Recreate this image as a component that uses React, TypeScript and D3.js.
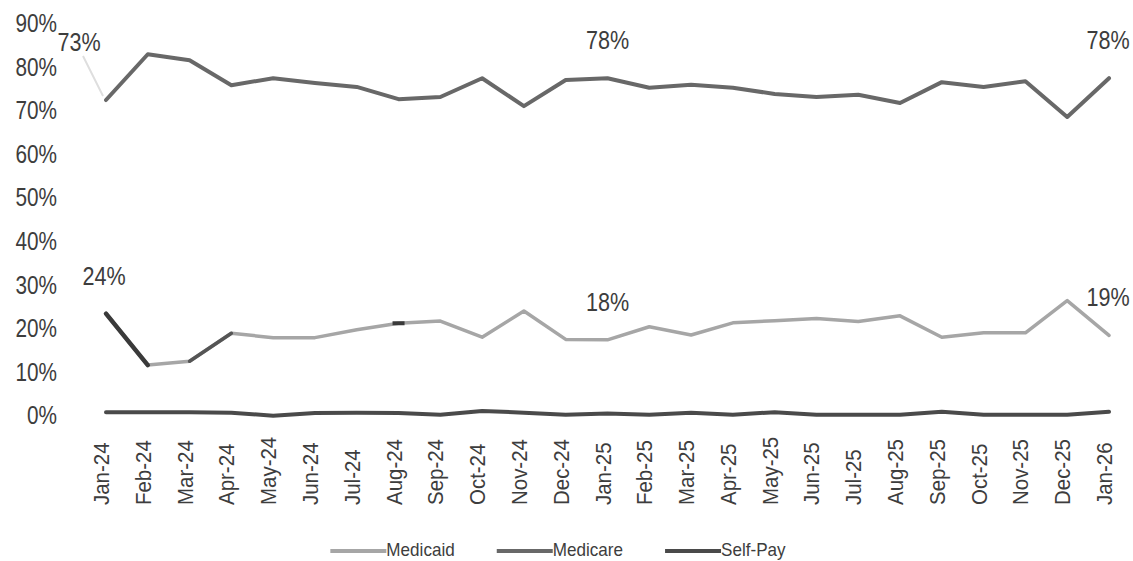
import React, { useEffect, useRef } from "react";
import * as d3 from "d3";

// Monthly payer mix, share of total
const months = [
  "Jan-24", "Feb-24", "Mar-24", "Apr-24", "May-24", "Jun-24", "Jul-24", "Aug-24", "Sep-24",
  "Oct-24", "Nov-24", "Dec-24", "Jan-25", "Feb-25", "Mar-25", "Apr-25", "May-25", "Jun-25",
  "Jul-25", "Aug-25", "Sep-25", "Oct-25", "Nov-25", "Dec-25", "Jan-26",
];

const medicare = [
  73, 83.5, 82.1, 76.4, 78.0, 76.9, 76.0, 73.2, 73.7, 78.0, 71.6, 77.6, 78,
  75.8, 76.5, 75.8, 74.4, 73.7, 74.2, 72.3, 77.1, 76.0, 77.3, 69.1, 78,
];

const medicaid = [
  24, 12.2, 13.1, 19.5, 18.5, 18.5, 20.3, 21.8, 22.3, 18.6, 24.6, 18.1, 18,
  21.0, 19.1, 21.9, 22.4, 22.9, 22.2, 23.5, 18.6, 19.6, 19.6, 27.0, 19,
];

const selfPay = [
  1.4, 1.4, 1.4, 1.3, 0.6, 1.2, 1.3, 1.2, 0.8, 1.7, 1.3, 0.8, 1.1,
  0.8, 1.3, 0.8, 1.4, 0.8, 0.8, 0.8, 1.5, 0.8, 0.8, 0.8, 1.5,
];

// Stretches of the Medicaid line drawn in the darker accent, plus a single accent tick
const medicaidAccentSegments: [number, number][] = [[0, 1], [2, 3]];
const medicaidAccentPoints = [7];

// Months carrying a value label
const labelledMonths = ["Jan-24", "Jan-25", "Jan-26"];

const yTicks = [0, 10, 20, 30, 40, 50, 60, 70, 80, 90];

const seriesNames = ["Medicaid", "Medicare", "Self-Pay"];
const seriesColors = ["#a6a6a6", "#686868", "#4a4a4a"];

const FONT = "'Liberation Sans', Arial, sans-serif";
const TEXT = "#3d3d3d";
// horizontal squeeze giving the condensed letterforms
const NARROW = 0.83;

export default function App() {
  const ref = useRef<SVGSVGElement | null>(null);

  useEffect(() => {
    const svg = d3.select(ref.current);
    svg.selectAll("*").remove();

    const x = d3.scalePoint<string>().domain(months).range([106, 1109]);
    const y = d3.scaleLinear().domain([0, 90]).range([418.3, 25.9]);

    const line = d3
      .line<number>()
      .x((_, i) => x(months[i]) as number)
      .y((v) => y(v));

    // y axis labels
    svg
      .append("g")
      .selectAll("text")
      .data(yTicks)
      .join("text")
      .attr("transform", (d) => `translate(57,${y(d) + 6}) scale(${NARROW},1)`)
      .attr("text-anchor", "end")
      .attr("font-family", FONT)
      .attr("font-size", 25)
      .attr("fill", TEXT)
      .text((d) => `${d}%`);

    // x axis labels
    svg
      .append("g")
      .selectAll("text")
      .data(months)
      .join("text")
      .attr(
        "transform",
        (d) => `translate(${(x(d) as number) + 3},505) rotate(-90) scale(0.93,1)`
      )
      .attr("text-anchor", "start")
      .attr("font-family", FONT)
      .attr("font-size", 22)
      .attr("fill", TEXT)
      .text((d) => d);

    const series = [
      { name: "Medicaid", values: medicaid, color: seriesColors[0], width: 3.5 },
      { name: "Medicare", values: medicare, color: seriesColors[1], width: 4 },
      { name: "Self-Pay", values: selfPay, color: seriesColors[2], width: 4 },
    ];

    const g = svg.append("g");
    series.forEach((s) => {
      g.append("path")
        .attr("d", line(s.values))
        .attr("fill", "none")
        .attr("stroke", s.color)
        .attr("stroke-width", s.width)
        .attr("stroke-linejoin", "round")
        .attr("stroke-linecap", "round");
    });

    // accent stretches on the Medicaid line
    medicaidAccentSegments.forEach(([a, b], k) => {
      g.append("line")
        .attr("x1", x(months[a]) as number)
        .attr("y1", y(medicaid[a]))
        .attr("x2", x(months[b]) as number)
        .attr("y2", y(medicaid[b]))
        .attr("stroke", k === 0 ? "#3a3a3a" : "#555555")
        .attr("stroke-width", k === 0 ? 4.5 : 3.5)
        .attr("stroke-linecap", "round");
    });
    medicaidAccentPoints.forEach((i) => {
      const cx = x(months[i]) as number;
      g.append("line")
        .attr("x1", cx - 6)
        .attr("x2", cx + 6)
        .attr("y1", y(medicaid[i]))
        .attr("y2", y(medicaid[i]))
        .attr("stroke", "#3a3a3a")
        .attr("stroke-width", 4);
    });

    // value labels
    const labelSpecs = [
      { values: medicare, lift: 38, shiftFirst: { dx: -27, dy: -20 } },
      { values: medicaid, lift: 38, shiftFirst: { dx: -2, dy: 0 } },
    ];
    labelSpecs.forEach((spec) => {
      labelledMonths.forEach((m, k) => {
        const i = months.indexOf(m);
        const px = x(m) as number;
        const py = y(spec.values[i]);
        let lx = px;
        let ly = py - spec.lift;
        if (k === 0) {
          lx += spec.shiftFirst.dx;
          ly += spec.shiftFirst.dy;
        }
        if (k === labelledMonths.length - 1) lx -= 1;
        if (k === 0 && spec.values === medicare) {
          // leader line from a displaced label back to its point
          svg
            .append("line")
            .attr("x1", lx + 4)
            .attr("y1", ly + 14)
            .attr("x2", px - 3)
            .attr("y2", py - 4)
            .attr("stroke", "#dedede")
            .attr("stroke-width", 2);
        }
        svg
          .append("text")
          .attr("transform", `translate(${lx},${ly + 9}) scale(${NARROW},1)`)
          .attr("text-anchor", "middle")
          .attr("font-family", FONT)
          .attr("font-size", 26)
          .attr("fill", TEXT)
          .text(`${Math.round(spec.values[i])}%`);
      });
    });

    // legend
    const legend = svg.append("g");
    let cursor = 0;
    const legendSqueeze = 0.95;
    seriesNames.forEach((name, i) => {
      const item = legend.append("g").attr("transform", `translate(${cursor},0)`);
      item
        .append("line")
        .attr("x1", 0)
        .attr("x2", 56)
        .attr("y1", 551)
        .attr("y2", 551)
        .attr("stroke", seriesColors[i])
        .attr("stroke-width", 4);
      const t = item
        .append("text")
        .attr("transform", `translate(56,556) scale(${legendSqueeze},1)`)
        .attr("font-family", FONT)
        .attr("font-size", 18)
        .attr("fill", TEXT)
        .text(name);
      const w = (t.node() as SVGTextElement).getComputedTextLength() * legendSqueeze;
      cursor += 56 + w + 42;
    });
    const total = cursor - 42;
    legend.attr("transform", `translate(${558 - total / 2},0)`);
  }, []);

  return (
    <svg
      ref={ref}
      width={1133}
      height={561}
      style={{ position: "absolute", left: 0, top: 0, background: "#ffffff" }}
    />
  );
}
